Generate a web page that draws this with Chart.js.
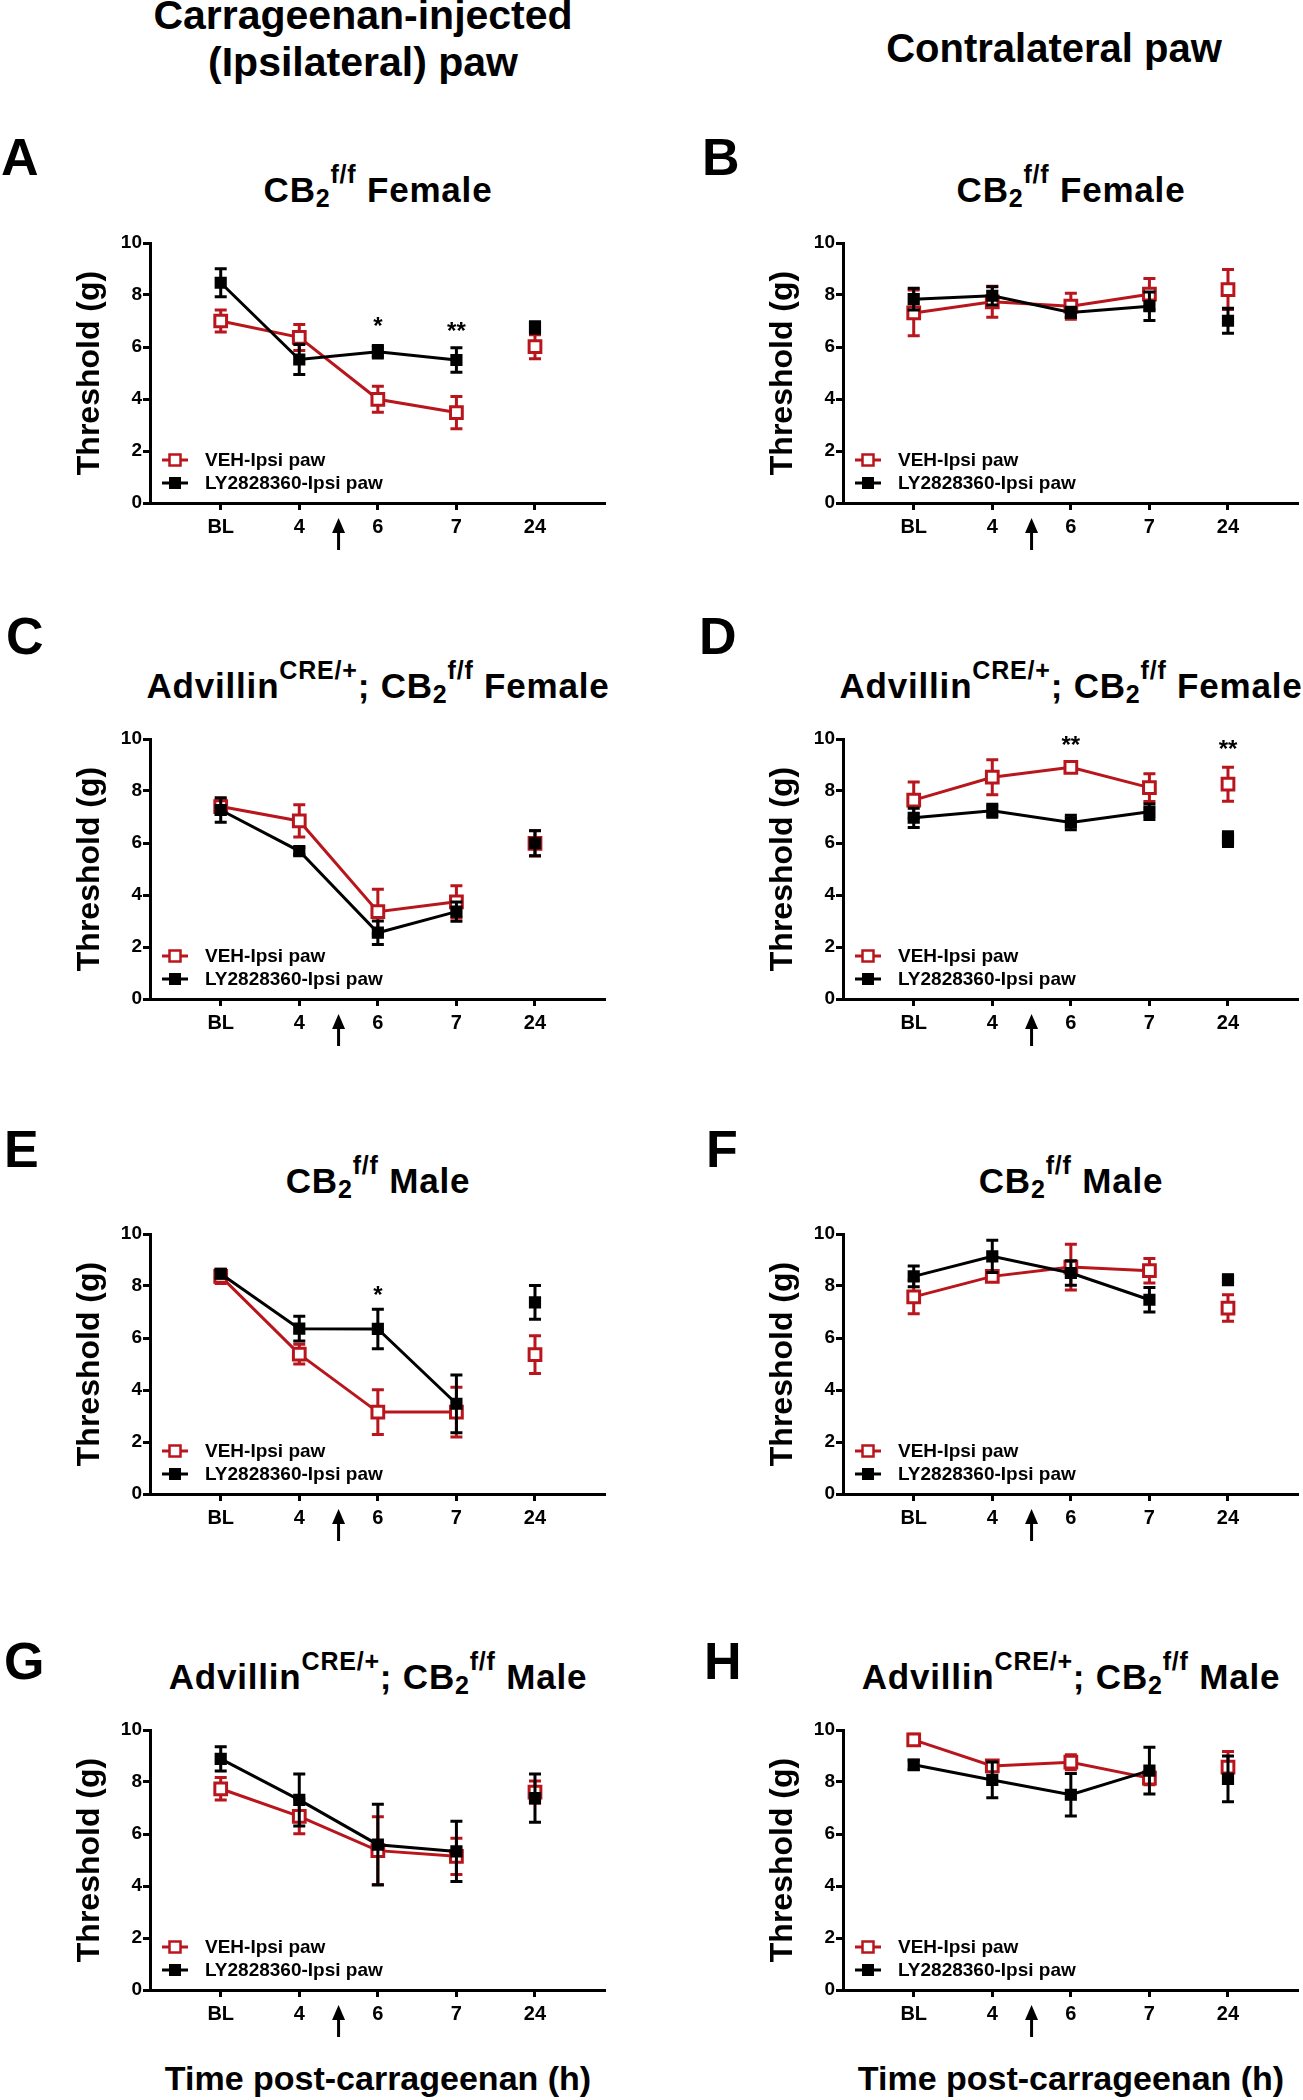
<!DOCTYPE html>
<html><head><meta charset="utf-8">
<script src="https://cdn.jsdelivr.net/npm/chart.js@4.4.1/dist/chart.umd.min.js"></script>
<style>
html,body{margin:0;padding:0;background:#fff}
body{width:1303px;height:2100px;position:relative;overflow:hidden;font-family:"Liberation Sans",Arial,Helvetica,sans-serif;color:#000}
.t{position:absolute;white-space:nowrap;font-weight:bold}
.ttl{letter-spacing:0.8px}
.sub{font-size:25px;position:relative;top:5px;line-height:0}
.sup{font-size:25px;position:relative;top:-19px;line-height:0}
canvas{position:absolute}
</style></head><body>
<script>
// ---------------- data ----------------
const timeLabels = ['BL', '4', '6', '7', '24'];
const seriesNames = ['VEH-Ipsi paw', 'LY2828360-Ipsi paw'];
const yTicks = [0, 2, 4, 6, 8, 10];
const arrowAt = 1.5; // injection time marker between "4" and "6"

// A: CB2 f/f Female, ipsilateral
const vehA = [7.0, 6.37, 3.99, 3.48, 6.01];
const vehSemA = [0.42, 0.5, 0.5, 0.62, 0.46];
const lyA = [8.47, 5.52, 5.82, 5.5, 6.75];
const lySemA = [0.54, 0.58, 0.24, 0.47, 0.22];
const sigA = [{i: 2, t: '*', y: 7.03}, {i: 3, t: '**', y: 6.84}];
// B: CB2 f/f Female, contralateral
const vehB = [7.31, 7.74, 7.57, 8.03, 8.21];
const vehSemB = [0.88, 0.6, 0.5, 0.6, 0.77];
const lyB = [7.84, 7.97, 7.33, 7.57, 7.01];
const lySemB = [0.42, 0.35, 0.2, 0.55, 0.48];
const sigB = [];
// C: Advillin-CRE CB2 f/f Female, ipsilateral
const vehC = [7.4, 6.85, 3.36, 3.74, 5.99];
const vehSemC = [0.28, 0.62, 0.86, 0.62, 0.49];
const lyC = [7.27, 5.69, 2.55, 3.36, 5.99];
const lySemC = [0.47, 0.13, 0.45, 0.37, 0.48];
const sigC = [];
// D: Advillin-CRE CB2 f/f Female, contralateral
const vehD = [7.65, 8.53, 8.91, 8.13, 8.26];
const vehSemD = [0.7, 0.67, 0.16, 0.53, 0.65];
const lyD = [6.97, 7.24, 6.79, 7.2, 6.15];
const lySemD = [0.37, 0.25, 0.28, 0.3, 0.28];
const sigD = [{i: 2, t: '**', y: 10.0}, {i: 4, t: '**', y: 9.83}];
// E: CB2 f/f Male, ipsilateral
const vehE = [8.37, 5.38, 3.15, 3.15, 5.36];
const vehSemE = [0.27, 0.38, 0.86, 0.96, 0.73];
const lyE = [8.47, 6.36, 6.35, 3.47, 7.37];
const lySemE = [0.16, 0.48, 0.76, 1.11, 0.65];
const sigE = [{i: 2, t: '*', y: 7.88}];
// F: CB2 f/f Male, contralateral
const vehF = [7.58, 8.37, 8.73, 8.59, 7.15];
const vehSemF = [0.65, 0.17, 0.88, 0.47, 0.51];
const lyF = [8.37, 9.14, 8.5, 7.47, 8.24];
const lySemF = [0.4, 0.62, 0.47, 0.47, 0.19];
const sigF = [];
// G: Advillin-CRE CB2 f/f Male, ipsilateral
const vehG = [7.74, 6.68, 5.36, 5.14, 7.61];
const vehSemG = [0.43, 0.67, 1.3, 0.7, 0.43];
const lyG = [8.89, 7.31, 5.59, 5.33, 7.38];
const lySemG = [0.47, 1.0, 1.55, 1.16, 0.93];
const sigG = [];
// H: Advillin-CRE CB2 f/f Male, contralateral
const vehH = [9.62, 8.62, 8.76, 8.15, 8.57];
const vehSemH = [0.22, 0.16, 0.29, 0.26, 0.6];
const lyH = [8.66, 8.08, 7.51, 8.44, 8.12];
const lySemH = [0.19, 0.69, 0.82, 0.9, 0.88];
const sigH = [];

// ---------------- text ----------------
const CB2 = 'CB<span class="sub">2</span><span class="sup">f/f</span>';
const ADV = 'Advillin<span class="sup">CRE/+</span>; ' + CB2;
const titles = {
  A: CB2 + ' Female', B: CB2 + ' Female',
  C: ADV + ' Female', D: ADV + ' Female',
  E: CB2 + ' Male', F: CB2 + ' Male',
  G: ADV + ' Male', H: ADV + ' Male'
};

// ---------------- layout ----------------
const RED = '#b8161c', BLK = '#000000';
const FONT = '"Liberation Sans", Arial, Helvetica, sans-serif';
const W = 610, H0 = 361, PLOT_W = 456, PLOT_H = 260;
const colLeft = [150, 843];
const rowTop = [243, 739, 1234, 1730];
const letterPos = {A: [1, 175], B: [702, 175], C: [6, 654], D: [699, 654], E: [4, 1167], F: [706, 1167], G: [4, 1679], H: [704, 1679]};

Chart.defaults.font.family = FONT;
Chart.defaults.font.weight = 'bold';
Chart.defaults.color = '#000';

function addText(html, x, baseline, size, center, cls) {
  const d = document.createElement('div');
  d.className = 't' + (cls ? ' ' + cls : '');
  d.innerHTML = html;
  d.style.fontSize = size + 'px';
  d.style.lineHeight = size + 'px';
  d.style.top = (baseline - 0.8465 * size) + 'px';
  d.style.left = x + 'px';
  if (center) d.style.transform = 'translateX(-50%)';
  document.body.appendChild(d);
}

addText('Carrageenan-injected', 363, 30, 41, true);
addText('(Ipsilateral) paw', 363, 77, 41, true);
addText('Contralateral paw', 1054, 62, 40, true);
addText('Time post-carrageenan (h)', 378, 2090, 34, true);
addText('Time post-carrageenan (h)', 1071, 2090, 34, true);

const panels = [
  {id: 'A', col: 0, row: 0, veh: vehA, vs: vehSemA, ly: lyA, ls: lySemA, sig: sigA},
  {id: 'B', col: 1, row: 0, veh: vehB, vs: vehSemB, ly: lyB, ls: lySemB, sig: sigB},
  {id: 'C', col: 0, row: 1, veh: vehC, vs: vehSemC, ly: lyC, ls: lySemC, sig: sigC},
  {id: 'D', col: 1, row: 1, veh: vehD, vs: vehSemD, ly: lyD, ls: lySemD, sig: sigD},
  {id: 'E', col: 0, row: 2, veh: vehE, vs: vehSemE, ly: lyE, ls: lySemE, sig: sigE},
  {id: 'F', col: 1, row: 2, veh: vehF, vs: vehSemF, ly: lyF, ls: lySemF, sig: sigF},
  {id: 'G', col: 0, row: 3, veh: vehG, vs: vehSemG, ly: lyG, ls: lySemG, sig: sigG},
  {id: 'H', col: 1, row: 3, veh: vehH, vs: vehSemH, ly: lyH, ls: lySemH, sig: sigH}
];

const errPlugin = {
  id: 'errbars',
  beforeDatasetDraw(chart, args) {
    const ds = chart.data.datasets[args.index];
    const meta = args.meta, ys = chart.scales.y, ctx = chart.ctx;
    ctx.save();
    ctx.strokeStyle = ds.errColor;
    ctx.lineWidth = 3;
    ds.data.forEach((d, i) => {
      const x = meta.data[i].x, s = ds.sem[i];
      const yt = ys.getPixelForValue(d.y + s), yb = ys.getPixelForValue(d.y - s);
      ctx.beginPath();
      ctx.moveTo(x, yt); ctx.lineTo(x, yb);
      ctx.moveTo(x - 6, yt); ctx.lineTo(x + 6, yt);
      ctx.moveTo(x - 6, yb); ctx.lineTo(x + 6, yb);
      ctx.stroke();
    });
    ctx.restore();
  }
};

function makeAnnot(p) {
  return {
    id: 'annot' + p.id,
    afterDraw(chart) {
      const ctx = chart.ctx, xs = chart.scales.x, ys = chart.scales.y, ca = chart.chartArea;
      ctx.save();
      // significance marks
      ctx.fillStyle = '#000';
      ctx.font = 'bold 24px ' + FONT;
      ctx.textAlign = 'center';
      ctx.textBaseline = 'alphabetic';
      p.sig.forEach(s => ctx.fillText(s.t, xs.getPixelForValue(s.i), ys.getPixelForValue(s.y) + 13.5));
      // injection arrow
      const ax = xs.getPixelForValue(arrowAt), tip = ca.bottom + 15, tail = ca.bottom + 47;
      ctx.strokeStyle = '#000'; ctx.lineWidth = 3;
      ctx.beginPath(); ctx.moveTo(ax, tail); ctx.lineTo(ax, tip + 10); ctx.stroke();
      ctx.beginPath(); ctx.moveTo(ax, tip); ctx.lineTo(ax - 6.5, tip + 15); ctx.lineTo(ax + 6.5, tip + 15); ctx.closePath(); ctx.fill();
      // legend
      const rows = [ca.bottom - 43, ca.bottom - 20];
      chart.data.datasets.forEach((ds, k) => {
        const y = rows[k], xm = ca.left + 25;
        ctx.strokeStyle = ds.errColor; ctx.lineWidth = 3;
        ctx.beginPath(); ctx.moveTo(ca.left + 12, y); ctx.lineTo(ca.left + 38, y); ctx.stroke();
        if (k === 0) {
          ctx.fillStyle = '#fff'; ctx.fillRect(xm - 5.5, y - 5.5, 11, 11);
          ctx.lineWidth = 2.5; ctx.strokeRect(xm - 5.5, y - 5.5, 11, 11);
        } else {
          ctx.fillStyle = '#000'; ctx.fillRect(xm - 6, y - 6, 12, 12);
        }
        ctx.fillStyle = '#000';
        ctx.font = 'bold 19px ' + FONT;
        ctx.textAlign = 'left'; ctx.textBaseline = 'middle';
        ctx.fillText(ds.label, ca.left + 55, y + 1);
      });
      ctx.restore();
    }
  };
}

const xTickFont = {family: FONT, size: 20, weight: 'bold'};
const yTickFont = {family: FONT, size: 19, weight: 'bold'};

panels.forEach(p => {
  const cv = document.createElement('canvas');
  cv.width = W; cv.height = H0;
  cv.style.width = W + 'px'; cv.style.height = H0 + 'px';
  document.body.appendChild(cv);
  const chart = new Chart(cv, {
    type: 'line',
    data: {
      datasets: [
        {
          label: seriesNames[0], order: 2,
          data: p.veh.map((v, i) => ({x: i, y: v})), sem: p.vs, errColor: RED,
          borderColor: RED, borderWidth: 3, fill: false, tension: 0,
          pointStyle: 'rect', pointRadius: 8.3, pointBorderWidth: 3,
          pointBorderColor: RED, pointBackgroundColor: '#fff',
          segment: {borderColor: c => c.p1DataIndex === 4 ? 'rgba(0,0,0,0)' : RED}
        },
        {
          label: seriesNames[1], order: 1,
          data: p.ly.map((v, i) => ({x: i, y: v})), sem: p.ls, errColor: BLK,
          borderColor: BLK, borderWidth: 3, fill: false, tension: 0,
          pointStyle: 'rect', pointRadius: 7.2, pointBorderWidth: 2,
          pointBorderColor: BLK, pointBackgroundColor: BLK,
          segment: {borderColor: c => c.p1DataIndex === 4 ? 'rgba(0,0,0,0)' : BLK}
        }
      ]
    },
    options: {
      responsive: false, maintainAspectRatio: false, animation: false,
      events: [],
      layout: {padding: {left: 67, right: 4, top: 30, bottom: 0}},
      plugins: {legend: {display: false}, tooltip: {enabled: false}},
      scales: {
        x: {
          type: 'linear', min: -0.9, max: 4.9,
          afterBuildTicks: s => { s.ticks = timeLabels.map((_, i) => ({value: i})); },
          afterFit: s => { s.height = 60; },
          ticks: {callback: v => timeLabels[v], font: xTickFont, color: '#000', padding: 5, maxRotation: 0, autoSkip: false},
          grid: {drawOnChartArea: false, drawTicks: true, tickLength: 7, tickWidth: 3, tickColor: '#000'},
          border: {display: true, width: 3, color: '#000'}
        },
        y: {
          min: 0, max: 10,
          afterBuildTicks: s => { s.ticks = yTicks.map(v => ({value: v})); },
          afterFit: s => { s.width = 83; },
          ticks: {font: yTickFont, color: '#000', padding: 1},
          grid: {drawOnChartArea: false, drawTicks: true, tickLength: 7, tickWidth: 3, tickColor: '#000'},
          border: {display: true, width: 3, color: '#000'},
          title: {display: true, text: 'Threshold (g)', color: '#000', font: {family: FONT, size: 32, weight: 'bold'}, padding: {top: 4, bottom: 4}}
        }
      }
    },
    plugins: [errPlugin, makeAnnot(p)]
  });
  let ca = chart.chartArea;
  const dh = Math.round(PLOT_H - (ca.bottom - ca.top)), dw = Math.round(PLOT_W - (ca.right - ca.left));
  if (dh || dw) { chart.resize(W + dw, H0 + dh); ca = chart.chartArea; }
  cv.style.left = (colLeft[p.col] - ca.left) + 'px';
  cv.style.top = (rowTop[p.row] - ca.top) + 'px';

  // panel title and letter
  addText(titles[p.id], colLeft[p.col] + PLOT_W / 2, rowTop[p.row] - 41, 35, true, 'ttl');
  addText(p.id, letterPos[p.id][0], letterPos[p.id][1], 52, false);
});
</script>
</body></html>
